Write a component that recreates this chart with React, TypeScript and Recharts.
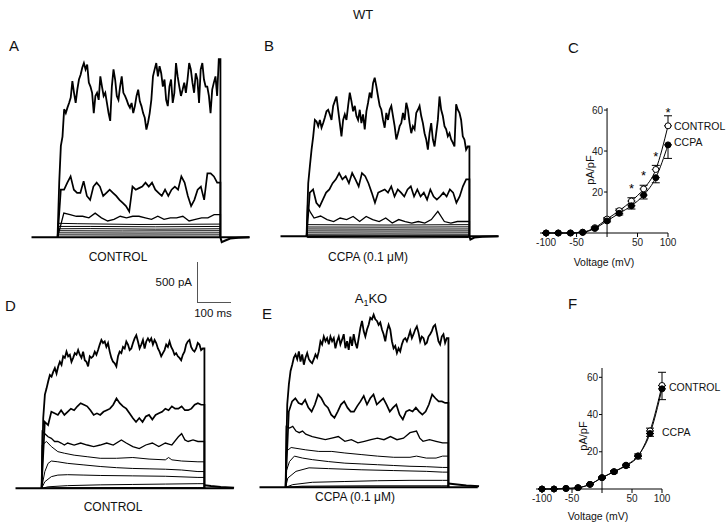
import React from "react";
import {
  ComposedChart,
  ErrorBar,
  LabelList,
  Line,
  LineChart,
  ReferenceLine,
  XAxis,
  YAxis,
} from "recharts";

const FONT = '"Liberation Sans", Arial, sans-serif';

// voltage-clamp pulse, ms
const PULSE_MS = 500;
const BASE_START = -80;
const BASE_END = 590;

// ---- A: WT control. noisy traces sampled evenly across the pulse (pA)
const A_TOP = [
  700, 1170, 1290, 1640, 1590, 1660, 1720, 1790, 2000, 1850,
  1720, 1890, 2020, 2080, 2170, 2230, 2150, 2210, 1980, 1930,
  1850, 1590, 1810, 1850, 1760, 2060, 1930, 1810, 1850, 1720,
  1590, 1490, 1930, 2150, 2020, 1810, 1760, 1930, 2060, 1850,
  1810, 1760, 1700, 1660, 1720, 1590, 1680, 1810, 1890, 1740,
  1680, 1590, 1530, 1380, 1470, 1590, 1760, 2060, 2150, 2230,
  2060, 2190, 2100, 1930, 2020, 1760, 1680, 1930, 2020, 1720,
  1850, 2230, 2060, 1930, 1810, 1890, 1980, 1850, 2020, 2230,
  2150, 1980, 1850, 2100, 2020, 1720, 2150, 2230, 2020, 1930,
  1930, 1810, 1590, 1890, 1980, 2060, 1810, 2280,
];
const A_MID = [
  610, 610, 700, 780, 610, 570, 570, 720, 530, 480, 650, 700, 650, 530, 570,
  610, 570, 530, 480, 440, 400, 330, 650, 610, 630, 650, 700, 650, 700, 610,
  570, 530, 610, 530, 610, 650, 610, 780, 700, 530, 400, 480, 610, 650, 480,
  820, 820, 780, 700,
];
const A_LOW = [
  310, 290, 270, 270, 250, 310, 250, 210, 230, 270, 250, 270, 270, 250, 230,
  270, 230, 250, 250, 270, 210, 230, 250, 250, 290,
];
// smooth small traces: [ms, pA]
const A_FLAT = [
  [[2, 180], [60, 175], [250, 165], [498, 170]],
  [[2, 140], [100, 140], [300, 135], [498, 140]],
  [[2, 110], [100, 112], [300, 105], [498, 110]],
  [[2, 85], [200, 82], [498, 85]],
  [[2, 58], [250, 55], [498, 58]],
  [[2, 32], [250, 30], [498, 32]],
];
const A_TAIL = [[500, 0], [504, -60], [515, -40], [530, -15], [555, -5], [588, 0]];

// ---- B: WT + CCPA
const B_TOP = [
  680, 900, 1110, 1280, 1490, 1470, 1410, 1490, 1390, 1450,
  1520, 1600, 1620, 1560, 1490, 1670, 1730, 1790, 1620, 1450,
  1280, 1490, 1560, 1490, 1670, 1840, 1730, 1600, 1670, 1540,
  1490, 1620, 1450, 1560, 1370, 1600, 1710, 1840, 1770, 1960,
  2030, 1920, 1790, 1670, 1620, 1490, 1390, 1580, 1490, 1620,
  1670, 1540, 1410, 1240, 1320, 1410, 1450, 1580, 1490, 1710,
  1620, 1450, 1320, 1410, 1370, 1580, 1620, 1670, 1540, 1450,
  1320, 1240, 1110, 1320, 1450, 1240, 1150, 1320, 1490, 1790,
  1620, 1540, 1410, 1370, 1280, 1320, 1240, 1200, 1150, 1690,
  1620, 1580, 1490, 1280, 1240, 1110, 1150,
];
const B_MID = [
  560, 600, 430, 380, 470, 560, 600, 680, 730, 810, 730, 770, 680, 810, 730,
  640, 810, 770, 680, 560, 430, 560, 580, 600, 560, 640, 510, 600, 560, 510,
  600, 640, 510, 600, 510, 560, 470, 600, 510, 470, 510, 560, 510, 600, 560,
  430, 510, 640, 730,
];
const B_LOW = [
  [3, 380], [13, 300], [23, 235], [43, 260], [63, 215], [83, 190], [103, 235],
  [123, 215], [143, 255], [163, 190], [183, 255], [203, 215], [223, 190],
  [243, 235], [263, 170], [283, 215], [303, 190], [323, 170], [343, 190],
  [363, 170], [383, 215], [403, 320], [423, 190], [443, 170], [463, 190], [483, 190],
];
const B_FLAT = [
  [[2, 150], [250, 145], [498, 150]],
  [[2, 120], [250, 118], [498, 122]],
  [[2, 95], [250, 92], [498, 95]],
  [[2, 70], [250, 68], [498, 70]],
  [[2, 45], [250, 42], [498, 45]],
  [[2, 20], [250, 18], [498, 20]],
  [[2, -15], [250, -20], [498, -15]],
];
const B_TAIL = [[500, 0], [503, -40], [515, -15], [540, -5], [587, 0]];

// ---- D: A1KO control
const D_TOP = [
  900, 1200, 1280, 1370, 1450, 1430, 1490, 1540, 1470, 1560,
  1620, 1580, 1690, 1670, 1750, 1690, 1710, 1620, 1670, 1730,
  1710, 1770, 1710, 1670, 1750, 1640, 1620, 1560, 1690, 1670,
  1690, 1750, 1710, 1770, 1840, 1900, 1860, 1880, 1810, 1860,
  1750, 1670, 1620, 1600, 1560, 1690, 1750, 1730, 1810, 1790,
  1880, 1840, 1770, 1790, 1860, 1920, 1960, 1880, 1790, 1840,
  1900, 1790, 1880, 1920, 1880, 1920, 1840, 1900, 1860, 1790,
  1750, 1690, 1730, 1770, 1840, 1810, 1880, 1810, 1770, 1710,
  1730, 1690, 1670, 1640, 1710, 1750, 1840, 1880, 1900, 1810,
  1770, 1750, 1790, 1860, 1840, 1770, 1790,
];
const D_MID = [
  850, 810, 980, 960, 940, 1000, 940, 980, 1020, 1000, 1050, 1090, 1070, 1050,
  1000, 940, 960, 940, 980, 1000, 1020, 1070, 1150, 1090, 1050, 1020, 960, 900,
  850, 900, 850, 920, 940, 880, 940, 960, 980, 1020, 1000, 1050, 1020, 1020,
  1050, 1000, 1000, 1020, 1070, 1090, 1070,
];
const D_LOW = [
  [2, 730], [10, 700], [20, 660], [30, 640], [40, 600], [50, 600], [60, 580],
  [70, 555], [80, 580], [100, 555], [120, 580], [140, 555], [160, 535],
  [180, 555], [200, 580], [220, 555], [245, 620], [260, 580], [280, 535],
  [300, 510], [320, 555], [340, 580], [360, 535], [380, 580], [400, 555],
  [420, 660], [430, 700], [440, 620], [450, 600], [465, 620], [480, 600],
];
const D_FLAT = [
  [[2, 555], [15, 600], [30, 535], [50, 470], [70, 450], [100, 425], [140, 405],
    [180, 385], [230, 385], [280, 395], [330, 375], [380, 365], [390, 395],
    [400, 365], [430, 350], [480, 340]],
  [[10, 215], [20, 320], [30, 350], [50, 340], [80, 320], [130, 300], [180, 280],
    [230, 265], [280, 255], [330, 250], [380, 245], [430, 235], [480, 215]],
  [[10, 85], [30, 150], [50, 170], [80, 175], [130, 170], [180, 165], [280, 160],
    [380, 155], [480, 140]],
  [[20, 20], [80, 35], [180, 45], [280, 50], [380, 55], [480, 60]],
  [[50, 8], [250, 10], [480, 10]],
];
const D_TAIL = [[500, 40], [520, 30], [550, 18], [591, 8]];

// ---- E: A1KO + CCPA
const E_TOP = [
  1060, 1320, 1490, 1570, 1660, 1700, 1640, 1740, 1610, 1700,
  1570, 1660, 1720, 1640, 1610, 1590, 1640, 1700, 1660, 1740,
  1870, 1830, 1930, 1870, 1910, 1830, 1930, 1870, 1910, 1780,
  1870, 1930, 1830, 1890, 1960, 1780, 1870, 1760, 1930, 1810,
  1960, 1850, 1780, 1910, 2040, 2130, 2000, 1930, 2020, 2080,
  2170, 2150, 2210, 2150, 2130, 2080, 2110, 2020, 1960, 1870,
  2000, 2080, 2020, 1870, 1780, 1810, 1720, 1780, 1740, 1830,
  1890, 1910, 1870, 1930, 2000, 1910, 1960, 2020, 2060, 1980,
  1870, 1930, 1910, 1830, 1850, 1930, 1960, 2000, 2060, 2080,
  1980, 1870, 1830, 1930, 1960, 1850, 1910,
];
const E_MID = [
  970, 1100, 1140, 1080, 1060, 1120, 1020, 970, 1060, 1190, 1140, 1060, 1020,
  930, 890, 970, 1060, 1100, 1020, 970, 970, 1040, 1100, 1170, 1060, 1140,
  1190, 1060, 1100, 1140, 1060, 970, 1020, 1060, 930, 870, 970, 990, 970, 1020,
  970, 930, 970, 1060, 1190, 1140, 1100, 1100, 1080,
];
const E_LOW = [
  [2, 780], [12, 760], [22, 780], [32, 720], [42, 700], [52, 720], [62, 680],
  [82, 650], [102, 630], [122, 610], [142, 630], [162, 650], [182, 590],
  [202, 610], [222, 570], [242, 590], [262, 610], [282, 630], [302, 610],
  [322, 650], [342, 610], [362, 630], [382, 700], [402, 720], [412, 630],
  [422, 590], [442, 610], [462, 590], [482, 570],
];
const E_FLAT = [
  [[2, 460], [17, 510], [32, 500], [62, 480], [102, 460], [142, 460], [182, 440],
    [232, 420], [282, 400], [332, 385], [382, 385], [402, 400], [432, 375],
    [462, 375], [482, 400]],
  [[2, 205], [12, 330], [27, 400], [52, 375], [82, 355], [132, 330], [182, 310],
    [232, 300], [282, 290], [332, 280], [382, 270], [432, 265], [482, 255]],
  [[7, 120], [32, 205], [72, 250], [132, 240], [232, 225], [332, 215], [432, 205],
    [482, 195]],
  [[22, 35], [82, 65], [182, 75], [282, 85], [382, 90], [482, 90]],
  [[50, 15], [250, 20], [480, 20]],
];
const E_TAIL = [[500, 50], [520, 40], [555, 25], [594, 15]];

// ---- I-V curves (pA/pF)
const VOLTAGES = [-100, -80, -60, -40, -20, 0, 20, 40, 60, 80, 100];
const WT_CONTROL = [0, 0, 0, 0.4, 2.6, 6.8, 10.9, 15.6, 21.5, 31, 52.3];
const WT_CONTROL_SEM = [0, 0, 0, 0.2, 0.4, 0.6, 0.8, 1.6, 1.8, 2, 4.9];
const WT_CCPA = [0, 0, 0, 0.3, 2.2, 5.9, 9.6, 13.3, 18.5, 27, 43];
const WT_CCPA_SEM = [0, 0, 0, 0.2, 0.4, 0.5, 0.8, 1.6, 1.9, 2.5, 6.6];
const WT_SIGNIF = [false, false, false, false, false, false, false, true, true, true, true];

const KO_CONTROL = [0, 0, 0.3, 0.7, 2.5, 6.1, 9.3, 12.5, 17.6, 31.2, 55.6];
const KO_CONTROL_SEM = [0, 0, 0, 0.2, 0.3, 0.5, 0.6, 0.8, 1.2, 1.5, 7.1];
const KO_CCPA = [0, 0, 0.3, 0.7, 2.5, 6.1, 9.3, 12.8, 17.8, 29.8, 53.8];
const KO_CCPA_SEM = [0, 0, 0, 0.2, 0.3, 0.5, 0.7, 1.2, 1.6, 1.5, 5.8];

const V_TICKS = [-100, -50, 0, 50, 100];
const IV_Y_TICKS = [20, 40, 60];

// trace panel geometry
const TW = 228;
const TH = 211;
const T_DOMAIN = [-100, 600];
const I_DOMAIN = [-200, 2500];

type Pt = { t: number; i: number };

function sampled(values: number[]): Pt[] {
  const n = values.length;
  const pts: Pt[] = [{ t: 0, i: 0 }];
  values.forEach((v, k) => pts.push({ t: (PULSE_MS * (k + 1)) / (n + 1), i: v }));
  pts.push({ t: PULSE_MS, i: values[n - 1] }, { t: PULSE_MS, i: 0 });
  return pts;
}

function paired(pairs: number[][]): Pt[] {
  const pts: Pt[] = [{ t: 0, i: 0 }, ...pairs.map(([t, i]) => ({ t, i }))];
  pts.push({ t: PULSE_MS, i: pairs[pairs.length - 1][1] }, { t: PULSE_MS, i: 0 });
  return pts;
}

const BASELINE: Pt[] = [
  { t: BASE_START, i: 0 },
  { t: BASE_END, i: 0 },
];

function TracePanel({ left, top, top1, mid, low, flats, tail }: any) {
  const traces = [
    { pts: sampled(top1), w: 1.8 },
    { pts: sampled(mid), w: 1.7 },
    { pts: Array.isArray(low[0]) ? paired(low) : sampled(low), w: 1.3 },
    ...flats.map((f: number[][]) => ({ pts: paired(f), w: 1 })),
  ];
  const tailPts = tail.map(([t, i]: number[]) => ({ t, i }));
  return (
    <div style={{ position: "absolute", left, top }}>
      <LineChart width={TW} height={TH} margin={{ top: 0, right: 0, bottom: 0, left: 0 }}>
        <XAxis type="number" dataKey="t" domain={T_DOMAIN} hide />
        <YAxis type="number" domain={I_DOMAIN} hide />
        <Line data={BASELINE} dataKey="i" stroke="#000" strokeWidth={2} dot={false} isAnimationActive={false} type="linear" />
        {traces.map((tr, k) => (
          <Line
            key={k}
            data={tr.pts}
            dataKey="i"
            stroke="#000"
            strokeWidth={tr.w}
            dot={false}
            isAnimationActive={false}
            type="linear"
          />
        ))}
        <Line data={tailPts} dataKey="i" stroke="#000" strokeWidth={2} dot={false} isAnimationActive={false} type="linear" />
      </LineChart>
    </div>
  );
}

function Star(p: any) {
  if (!p.value) return null;
  const x = p.x ?? p.viewBox?.x;
  const y = p.y ?? p.viewBox?.y;
  return (
    <text x={x} y={y - 8.5} textAnchor="middle" fontSize={13} fontFamily={FONT} fill="#000">
      *
    </text>
  );
}

function IVPanel({ left, top, plotW, plotH, yMax, ctrl, ctrlSem, ccpa, ccpaSem, signif }: any) {
  const data = VOLTAGES.map((v, k) => ({
    v,
    ctrl: ctrl[k],
    ctrlErr: [0, ctrlSem[k]],
    ccpa: ccpa[k],
    ccpaErr: [ccpaSem[k], 0],
    star: signif && signif[k] ? "*" : "",
  }));
  const m = { top: 20, right: 10, bottom: 0, left: 9 };
  const yAxisW = 1;
  const xMin = -110;
  const xMax = 100;
  const x0 = m.left + yAxisW + (plotW * (0 - xMin)) / (xMax - xMin);
  const yTick = (p: any) => (
    <g>
      <line x1={x0 - 3} x2={x0} y1={p.y} y2={p.y} stroke="#000" />
      <text x={x0 - 4} y={p.y} dy="0.35em" textAnchor="end" fontSize={10} fontFamily={FONT} fill="#222">
        {p.payload.value}
      </text>
    </g>
  );
  return (
    <div style={{ position: "absolute", left, top }}>
      <ComposedChart width={plotW + m.left + yAxisW + m.right} height={plotH + m.top + 30} data={data} margin={m}>
        <XAxis
          type="number"
          dataKey="v"
          domain={[xMin, xMax]}
          ticks={V_TICKS}
          tickFormatter={(v: number) => (v === 0 ? "" : String(v))}
          tickSize={4}
          height={30}
          axisLine={{ stroke: "#000" }}
          tickLine={{ stroke: "#000" }}
          tick={{ fill: "#222", fontSize: 10, fontFamily: FONT }}
        />
        <YAxis
          type="number"
          domain={[0, yMax]}
          ticks={IV_Y_TICKS}
          width={yAxisW}
          axisLine={false}
          tickLine={false}
          tick={yTick}
        />
        <ReferenceLine x={0} stroke="#000" />
        <Line
          dataKey="ctrl"
          type="monotone"
          stroke="#000"
          strokeWidth={1}
          dot={{ r: 3, fill: "#fff", stroke: "#000", strokeWidth: 1 }}
          activeDot={false}
          isAnimationActive={false}
        >
          <ErrorBar dataKey="ctrlErr" width={4} stroke="#000" strokeWidth={1} direction="y" />
          <LabelList dataKey="star" content={Star} />
        </Line>
        <Line
          dataKey="ccpa"
          type="monotone"
          stroke="#000"
          strokeWidth={1}
          dot={{ r: 3, fill: "#000", stroke: "#000", strokeWidth: 1 }}
          activeDot={false}
          isAnimationActive={false}
        >
          <ErrorBar dataKey="ccpaErr" width={4} stroke="#000" strokeWidth={1} direction="y" />
        </Line>
      </ComposedChart>
    </div>
  );
}

function Txt({ x, y, size = 12, anchor = "middle", rotate = false, children }: any) {
  const tx = anchor === "middle" ? "-50%" : anchor === "end" ? "-100%" : "0";
  return (
    <div
      style={{
        position: "absolute",
        left: x,
        top: y,
        transform: `translate(${tx}, -50%)${rotate ? " rotate(-90deg)" : ""}`,
        fontFamily: FONT,
        fontSize: size,
        lineHeight: 1,
        whiteSpace: "nowrap",
        color: "#111",
      }}
    >
      {children}
    </div>
  );
}

export default function App() {
  return (
    <div
      style={{
        position: "absolute",
        left: 0,
        top: 0,
        width: 726,
        height: 526,
        background: "#fff",
        overflow: "hidden",
      }}
    >
      <Txt x={363} y={14} size={13}>WT</Txt>
      <Txt x={9} y={45} size={15} anchor="start">A</Txt>
      <Txt x={264} y={45} size={15} anchor="start">B</Txt>
      <Txt x={568} y={47} size={15} anchor="start">C</Txt>
      <Txt x={5} y={305} size={15} anchor="start">D</Txt>
      <Txt x={262} y={313} size={15} anchor="start">E</Txt>
      <Txt x={568} y={303} size={15} anchor="start">F</Txt>

      <TracePanel left={24.7} top={42.3} top1={A_TOP} mid={A_MID} low={A_LOW} flats={A_FLAT} tail={A_TAIL} />
      <TracePanel left={274.4} top={41.3} top1={B_TOP} mid={B_MID} low={B_LOW} flats={B_FLAT} tail={B_TAIL} />
      <TracePanel left={9.1} top={292.9} top1={D_TOP} mid={D_MID} low={D_LOW} flats={D_FLAT} tail={D_TAIL} />
      <TracePanel left={253.4} top={292.3} top1={E_TOP} mid={E_MID} low={E_LOW} flats={E_FLAT} tail={E_TAIL} />

      <Txt x={118} y={257} size={12}>CONTROL</Txt>
      <Txt x={368} y={257} size={12}>CCPA (0.1 μM)</Txt>
      <Txt x={113} y={507} size={12}>CONTROL</Txt>
      <Txt x={355} y={497} size={12}>CCPA (0.1 μM)</Txt>
      <Txt x={371} y={300} size={13}>
        A<sub style={{ fontSize: 9, verticalAlign: -3 }}>1</sub>KO
      </Txt>

      {/* scale bar */}
      <div style={{ position: "absolute", left: 196.5, top: 262, width: 1.5, height: 40.5, background: "#555" }} />
      <div style={{ position: "absolute", left: 196.5, top: 301.5, width: 34, height: 1.5, background: "#555" }} />
      <Txt x={192} y={283} size={11.5} anchor="end">500 pA</Txt>
      <Txt x={213} y={314} size={11.5}>100 ms</Txt>

      <IVPanel
        left={530}
        top={88}
        plotW={128}
        plotH={125}
        yMax={61}
        ctrl={WT_CONTROL}
        ctrlSem={WT_CONTROL_SEM}
        ccpa={WT_CCPA}
        ccpaSem={WT_CCPA_SEM}
        signif={WT_SIGNIF}
      />
      <Txt x={590} y={170} size={11} rotate>pA/pF</Txt>
      <Txt x={604} y={262} size={10.5}>Voltage (mV)</Txt>
      <Txt x={674} y={126} size={10.5} anchor="start">CONTROL</Txt>
      <Txt x={674} y={142} size={10.5} anchor="start">CCPA</Txt>

      <IVPanel
        left={526}
        top={348}
        plotW={126}
        plotH={121}
        yMax={65}
        ctrl={KO_CONTROL}
        ctrlSem={KO_CONTROL_SEM}
        ccpa={KO_CCPA}
        ccpaSem={KO_CCPA_SEM}
      />
      <Txt x={583} y={436} size={11} rotate>pA/pF</Txt>
      <Txt x={598} y={516} size={10.5}>Voltage (mV)</Txt>
      <Txt x={669} y={387} size={10.5} anchor="start">CONTROL</Txt>
      <Txt x={662} y={432} size={10.5} anchor="start">CCPA</Txt>
    </div>
  );
}
